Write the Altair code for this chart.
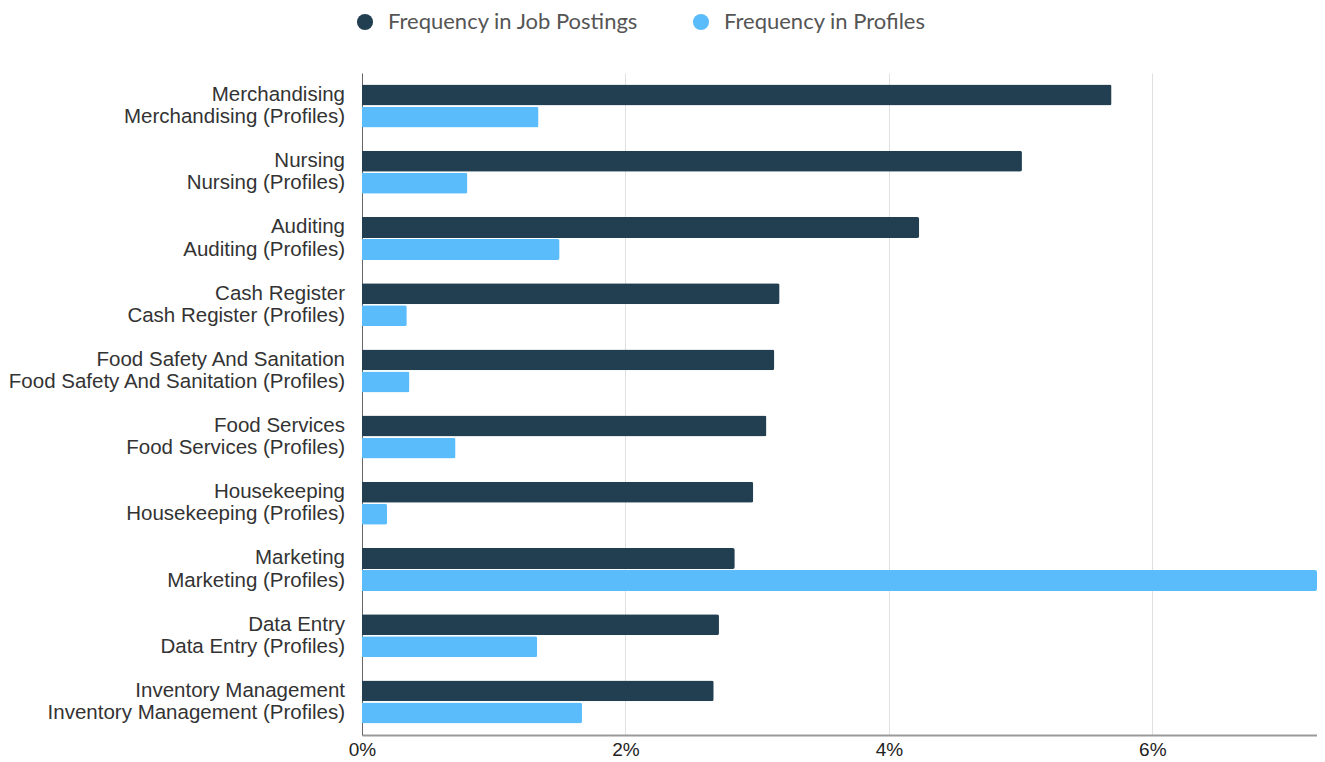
import altair as alt
import pandas as pd

categories = ["Merchandising", "Nursing", "Auditing", "Cash Register",
              "Food Safety And Sanitation", "Food Services", "Housekeeping",
              "Marketing", "Data Entry", "Inventory Management"]
postings = [5.69, 5.01, 4.23, 3.17, 3.13, 3.07, 2.97, 2.83, 2.71, 2.67]
profiles = [1.34, 0.80, 1.50, 0.34, 0.36, 0.71, 0.19, 7.25, 1.33, 1.67]
series_names = ["Frequency in Job Postings", "Frequency in Profiles"]
series_colors = ["#223f51", "#5bbcfc"]
tick_values = [0, 2, 4, 6]

rows = []
for c, p, q in zip(categories, postings, profiles):
    rows.append({"category": c, "series": series_names[0], "value": p, "label": c})
    rows.append({"category": c, "series": series_names[1], "value": q, "label": c + " (Profiles)"})
df = pd.DataFrame(rows)

y_enc = alt.Y("category:N", sort=categories,
              scale=alt.Scale(paddingInner=0.35, paddingOuter=0.175),
              axis=alt.Axis(labels=False, ticks=False, domain=True, grid=False,
                            title=None, domainColor="#666", domainWidth=1))
yoff_enc = alt.YOffset("series:N", sort=series_names,
                       scale=alt.Scale(paddingInner=0.05))

bars = alt.Chart(df).mark_bar(cornerRadiusEnd=2).encode(
    x=alt.X("value:Q", scale=alt.Scale(domain=[0, 7.25], nice=False, zero=True),
            axis=alt.Axis(values=tick_values, labelExpr="datum.value + '%'",
                          title=None, ticks=False, grid=True, gridColor="#e0e0e0",
                          domainColor="#999", domainWidth=2, labelAlign="center",
                          labelFont="Liberation Sans", labelFontSize=19,
                          labelColor="#222", labelPadding=5)),
    y=y_enc,
    yOffset=yoff_enc,
    color=alt.Color("series:N", sort=series_names,
                    scale=alt.Scale(domain=series_names, range=series_colors),
                    legend=alt.Legend(orient="none", legendX=-10, legendY=-64,
                                      direction="horizontal", title=None,
                                      symbolType="circle", symbolSize=260,
                                      symbolStrokeWidth=0, labelLimit=0,
                                      labelFont="Lato", labelFontSize=22,
                                      labelColor="#555", labelOffset=12,
                                      columnPadding=51, padding=2)),
)

labels = alt.Chart(df).mark_text(align="right", baseline="middle",
                                 font="Liberation Sans", fontSize=20.5,
                                 color="#333").encode(
    x=alt.value(-17),
    y=alt.Y("category:N", sort=categories),
    yOffset=alt.YOffset("series:N", sort=series_names),
    text="label:N",
)

chart = alt.layer(bars, labels).properties(
    width=955, height=662,
    autosize=alt.AutoSizeParams(type="none"),
    padding={"left": 354, "top": 65, "right": 0, "bottom": 24},
).configure_view(strokeWidth=0)

chart.save("out.html", embed_options={"renderer": "svg", "actions": False})
